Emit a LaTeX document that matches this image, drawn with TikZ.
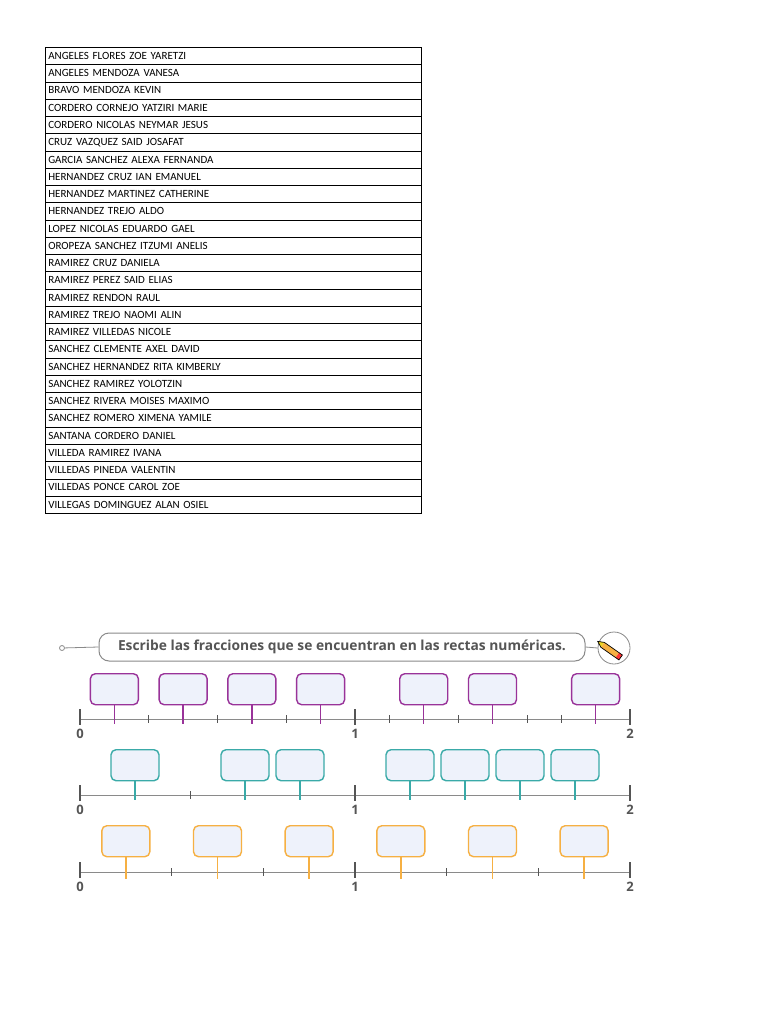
\documentclass[tikz,border=0pt]{standalone}
\usepackage{fontspec}
\setmainfont{Carlito}
\newfontfamily\hdfont{Open Sans}
\definecolor{pur}{HTML}{993399}
\definecolor{tea}{HTML}{3AAAA8}
\definecolor{ora}{HTML}{F6B043}
\definecolor{bfill}{HTML}{EEF2FB}
\definecolor{lgray}{HTML}{8A8A8A}
\definecolor{dgray}{HTML}{555555}
\tikzset{
 cellbox/.style={draw=black,line width=0.6pt,minimum width=376pt,minimum height=17.26pt,anchor=north west,inner sep=0pt,font=\fontsize{11}{12}\selectfont,text width=370pt,align=left},
 ansbox/.style={draw=#1,fill=bfill,line width=1.4pt,rounded corners=5pt,minimum width=48pt,minimum height=31pt,inner sep=0pt},
 pin/.style={draw=#1,line width=1.4pt},
 axis/.style={draw=lgray,line width=1pt},
 bigtick/.style={draw=dgray,line width=2.2pt},
 smalltick/.style={draw=dgray,line width=0.6pt},
 numlab/.style={font=\hdfont\bfseries\fontsize{13}{13}\selectfont,text=dgray}
}
\begin{document}
\begin{tikzpicture}[x=1pt,y=-1pt]
\useasboundingbox[fill=white] (0,0) rectangle (768,1024);
\foreach \t [count=\i from 0] in {ANGELES FLORES ZOE YARETZI,ANGELES MENDOZA VANESA,BRAVO MENDOZA KEVIN,CORDERO CORNEJO YATZIRI MARIE,CORDERO NICOLAS NEYMAR JESUS,CRUZ VAZQUEZ SAID JOSAFAT,GARCIA SANCHEZ ALEXA FERNANDA,HERNANDEZ CRUZ IAN EMANUEL,HERNANDEZ MARTINEZ CATHERINE,HERNANDEZ TREJO ALDO,LOPEZ NICOLAS EDUARDO GAEL,OROPEZA SANCHEZ ITZUMI ANELIS,RAMIREZ CRUZ DANIELA,RAMIREZ PEREZ SAID ELIAS,RAMIREZ RENDON RAUL,RAMIREZ TREJO NAOMI ALIN,RAMIREZ VILLEDAS NICOLE,SANCHEZ CLEMENTE AXEL DAVID,SANCHEZ HERNANDEZ RITA KIMBERLY,SANCHEZ RAMIREZ YOLOTZIN,SANCHEZ RIVERA MOISES MAXIMO,SANCHEZ ROMERO XIMENA YAMILE,SANTANA CORDERO DANIEL,VILLEDA RAMIREZ IVANA,VILLEDAS PINEDA VALENTIN,VILLEDAS PONCE CAROL ZOE,VILLEGAS DOMINGUEZ ALAN OSIEL}
 \node[cellbox] (row\i) at (45,{47+17.26*\i}) {\t};

% header
\node[draw=lgray,line width=1pt,rounded corners=10pt,minimum width=486pt,minimum height=28pt,font=\hdfont\bfseries\fontsize{13.8}{14}\selectfont,text=dgray] (hdr) at (342,647) {Escribe las fracciones que se encuentran en las rectas numéricas.};
\node[draw=lgray,circle,line width=0.8pt,minimum size=5pt,inner sep=0pt] (dot) at (62,648) {};
\draw[lgray,line width=0.8pt] (dot) -- (hdr.west);
\node[draw=lgray,circle,line width=0.8pt,minimum size=32pt,inner sep=0pt] (pc) at (614,648) {};
\draw[lgray,line width=0.8pt] (hdr.east) -- (pc.west);
\begin{scope}[shift={(610,650)},rotate=-35]
 \fill[ora] (-9,-3) rectangle (9,3);
 \fill[red!80] (9,-3) rectangle (13,3);
 \fill[yellow!70!brown] (-9,-3) -- (-15,0) -- (-9,3) -- cycle;
 \draw[black,line width=0.7pt] (-15,0) -- (-9,-3) -- (13,-3) -- (13,3) -- (-9,3) -- cycle;
\end{scope}

% number lines
\foreach \L/\yy/\col/\btop in {1/719/pur/673,2/795/tea/749,3/872/ora/825}{
 \coordinate (a\L) at (80,\yy);
 \coordinate (b\L) at (630,\yy);
 \draw[axis] (a\L) -- (b\L);
 \foreach \xx/\lab in {80/0,355/1,630/2}{
  \draw[bigtick] (\xx,\yy-10) -- (\xx,\yy+6);
  \node[numlab] at (\xx,\yy+15) {\lab};
 }
}
% small ticks
\foreach \f in {2,4,6,9,11,13,14} \draw[smalltick] ({80+275*\f/8},715) -- ({80+275*\f/8},723);
\foreach \f in {2} \draw[smalltick] ({80+275*\f/5},791) -- ({80+275*\f/5},799);
\foreach \f in {2,4,8,10} \draw[smalltick] ({80+275*\f/6},868) -- ({80+275*\f/6},876);

% pins and boxes
\foreach \f [count=\k] in {1,3,5,7,10,12,15}{
 \node[ansbox=pur,anchor=north] (p\k) at ({80+275*\f/8},673) {};
 \draw[pin=pur] (p\k.south) -- ++(0,19);
}
\foreach \f [count=\k] in {1,3,4,6,7,8,9}{
 \node[ansbox=tea,anchor=north] (t\k) at ({80+275*\f/5},749) {};
 \draw[pin=tea] (t\k.south) -- ++(0,19);
}
\foreach \f [count=\k] in {1,3,5,7,9,11}{
 \node[ansbox=ora,anchor=north] (o\k) at ({80+275*\f/6},825) {};
 \draw[pin=ora] (o\k.south) -- ++(0,22);
}
\end{tikzpicture}
\end{document}
